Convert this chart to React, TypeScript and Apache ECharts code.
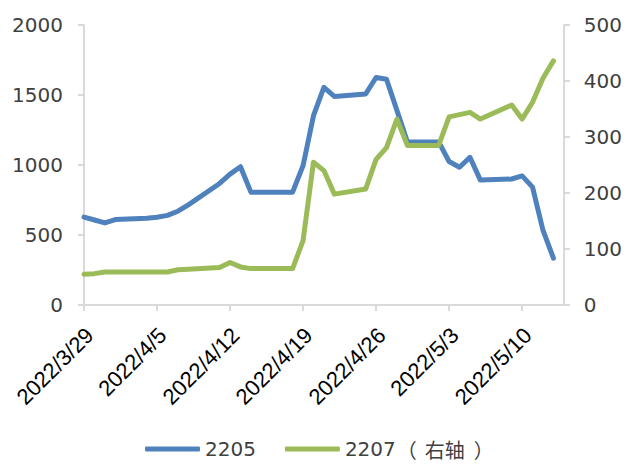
import React, { useEffect, useRef } from "react";
import * as echarts from "echarts";

const dates: string[] = [
  "2022/3/29", "2022/3/30", "2022/3/31", "2022/4/1", "2022/4/2", "2022/4/3", "2022/4/4",
  "2022/4/5", "2022/4/6", "2022/4/7", "2022/4/8", "2022/4/9", "2022/4/10", "2022/4/11",
  "2022/4/12", "2022/4/13", "2022/4/14", "2022/4/15", "2022/4/16", "2022/4/17", "2022/4/18",
  "2022/4/19", "2022/4/20", "2022/4/21", "2022/4/22", "2022/4/23", "2022/4/24", "2022/4/25",
  "2022/4/26", "2022/4/27", "2022/4/28", "2022/4/29", "2022/4/30", "2022/5/1", "2022/5/2",
  "2022/5/3", "2022/5/4", "2022/5/5", "2022/5/6", "2022/5/7", "2022/5/8", "2022/5/9",
  "2022/5/10", "2022/5/11", "2022/5/12", "2022/5/13", "2022/5/14",
];

// 2205 (left axis); null = no data (weekend)
const s2205: (number | null)[] = [
  628, 607, 586, 610, null, null, 620,
  627, 640, 670, 715, null, null, 868,
  935, 988, 806, 806, null, null, 806,
  995, 1352, 1554, 1490, null, null, 1507,
  1625, 1613, 1390, 1165, null, null, 1165,
  1025, 984, 1055, 892, null, null, 900,
  922, 842, 534, 335, null,
];

// 2207 (right axis)
const s2207: (number | null)[] = [
  55, 56, 59, 59, null, null, 59,
  59, 59, 63, 64, null, null, 67,
  76, 68, 65, 65, null, null, 65,
  115, 255, 240, 198, null, null, 207,
  260, 281, 332, 285, null, null, 285,
  336, 340, 344, 332, null, null, 357,
  332, 362, 405, 436, null,
];

const seriesNames = ["2205", "2207（右轴）"];

export default function App() {
  const ref = useRef<HTMLDivElement>(null);
  useEffect(() => {
    if (!ref.current) return;
    const chart = echarts.init(ref.current, undefined, { renderer: "svg" });
    const axisLine = { show: true, lineStyle: { color: "#d9d9d9", width: 2 } };
    const axisTick = { show: true, inside: false, length: 6, lineStyle: { color: "#d9d9d9", width: 2 } };
    const numLabel = {
      fontFamily: "'DejaVu Sans', sans-serif",
      fontSize: 20,
      color: "#404040",
      formatter: (v: number) => String(v),
    };
    const cjk = { fontFamily: "'Noto Sans CJK SC', sans-serif", fontSize: 20, lineHeight: 22, color: "#404040" };
    chart.setOption({
      animation: false,
      backgroundColor: "#ffffff",
      grid: { left: 84, right: 61, top: 25, bottom: 159, containLabel: false },
      legend: {
        data: seriesNames,
        top: 433,
        left: 140,
        padding: [5, 5, 2, 5],
        itemWidth: 55,
        itemHeight: 5,
        itemGap: 29,
        icon: "roundRect",
        formatter: (name: string) => {
          const i = name.indexOf("（");
          if (i < 0) return "{a|" + name + "}";
          const inner = name.slice(i + 1, name.length - 1);
          return "{a|" + name.slice(0, i) + "}{p|（}{b|" + inner + "}{q|）}";
        },
        textStyle: {
          fontFamily: "'DejaVu Sans', 'Noto Sans CJK SC', sans-serif",
          fontSize: 20,
          lineHeight: 22,
          color: "#404040",
          rich: {
            a: { fontFamily: "'DejaVu Sans', sans-serif", fontSize: 20, lineHeight: 22, color: "#404040" },
            p: { ...cjk, padding: [0, 8, 0, 1] },
            b: cjk,
            q: { ...cjk, padding: [0, 0, 0, 9] },
          },
        },
      },
      xAxis: {
        type: "category",
        data: dates,
        boundaryGap: false,
        axisLine,
        axisTick: { ...axisTick, interval: 6 },
        splitLine: { show: false },
        axisLabel: {
          interval: 6,
          rotate: 45,
          margin: 21,
          verticalAlign: "top",
          lineHeight: 16,
          fontFamily: "'Liberation Sans', Arial, sans-serif",
          fontSize: 22,
          color: "#000000",
        },
      },
      yAxis: [
        {
          type: "value",
          min: 0,
          max: 2000,
          interval: 500,
          position: "left",
          axisLine,
          axisTick,
          splitLine: { show: false },
          axisLabel: { ...numLabel, margin: 21 },
        },
        {
          type: "value",
          min: 0,
          max: 500,
          interval: 100,
          position: "right",
          axisLine,
          axisTick,
          splitLine: { show: false },
          axisLabel: { ...numLabel, margin: 20 },
        },
      ],
      series: [
        {
          name: seriesNames[0],
          type: "line",
          data: s2205,
          yAxisIndex: 0,
          connectNulls: true,
          symbol: "none",
          color: "#4f81bd",
          lineStyle: { width: 5, color: "#4f81bd", cap: "round", join: "round" },
        },
        {
          name: seriesNames[1],
          type: "line",
          data: s2207,
          yAxisIndex: 1,
          connectNulls: true,
          symbol: "none",
          color: "#9bbb59",
          lineStyle: { width: 5, color: "#9bbb59", cap: "round", join: "round" },
        },
      ],
    });
    return () => chart.dispose();
  }, []);
  return (
    <div
      ref={ref}
      style={{ position: "fixed", left: 0, top: 0, width: 625, height: 464, background: "#fff" }}
    />
  );
}
